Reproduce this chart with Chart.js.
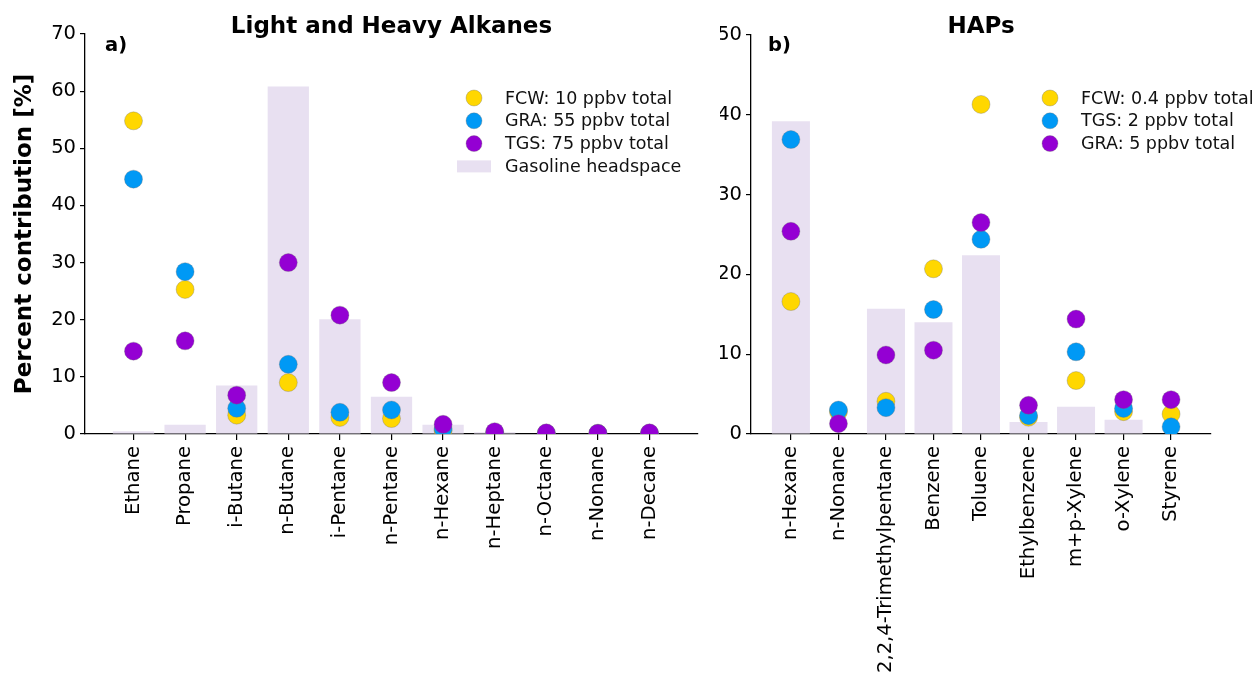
<!DOCTYPE html>
<html>
<head>
<meta charset="utf-8">
<script src="https://cdn.jsdelivr.net/npm/chart.js@4.4.1/dist/chart.umd.min.js"></script>
<style>
  html, body { margin: 0; padding: 0; background: #fff; }
  #wrap { position: relative; width: 1257px; height: 682px; overflow: hidden; }
  canvas { position: absolute; top: 0; }
  #alkanes { left: 0; }
  #haps { left: 720px; }
</style>
</head>
<body>
<div id="wrap">
  <canvas id="alkanes" width="720" height="682"></canvas>
  <canvas id="haps" width="537" height="682"></canvas>
</div>
<script>
// panel a) light and heavy alkanes
const alkaneLabels = ['Ethane', 'Propane', 'i-Butane', 'n-Butane', 'i-Pentane', 'n-Pentane',
  'n-Hexane', 'n-Heptane', 'n-Octane', 'n-Nonane', 'n-Decane'];
const alkaneFCW = [54.8, 25.3, 3.3, 9.0, 2.9, 2.7, 0.6, 0.2, 0.1, 0.1, 0.1];
const alkaneGRA = [44.6, 28.4, 4.5, 12.2, 3.8, 4.2, 0.9, 0.2, 0.1, 0.1, 0.1];
const alkaneTGS = [14.5, 16.3, 6.8, 30.0, 20.8, 9.0, 1.7, 0.4, 0.2, 0.15, 0.2];
const alkaneGasoline = [0.5, 1.6, 8.5, 60.8, 20.1, 6.5, 1.6, 0.3, 0, 0, 0];
const alkaneYTicks = [0, 10, 20, 30, 40, 50, 60, 70];

// panel b) hazardous air pollutants
const hapLabels = ['n-Hexane', 'n-Nonane', '2,2,4-Trimethylpentane', 'Benzene', 'Toluene',
  'Ethylbenzene', 'm+p-Xylene', 'o-Xylene', 'Styrene'];
const hapFCW = [16.6, 2.8, 4.1, 20.7, 41.3, 2.1, 6.7, 2.8, 2.5];
const hapTGS = [36.9, 3.0, 3.3, 15.6, 24.4, 2.3, 10.3, 3.2, 0.9];
const hapGRA = [25.4, 1.3, 9.9, 10.5, 26.5, 3.6, 14.4, 4.3, 4.3];
const hapGasoline = [39.2, 0, 15.7, 14.0, 22.4, 1.5, 3.4, 1.8, 0];
const hapYTicks = [0, 10, 20, 30, 40, 50];

const YELLOW = '#FFD700';
const BLUE = '#0099F5';
const PURPLE = '#9400D3';
const LAVENDER = '#E8E0F1';
const FONT = "'DejaVu Sans', Verdana, sans-serif";

function pts(values) {
  return values.map((v, i) => ({ x: i, y: v }));
}

function dotSet(label, values, color, order) {
  return {
    type: 'scatter',
    label: label,
    data: pts(values),
    backgroundColor: color,
    borderColor: 'rgba(110,110,110,0.55)',
    borderWidth: 0.6,
    pointRadius: 9,
    pointHoverRadius: 9,
    order: order
  };
}

// title, panel tag, y title and the hand placed legend
const panelDecor = {
  id: 'panelDecor',
  afterDraw(chart, args, opts) {
    const c = chart.ctx;
    const area = chart.chartArea;
    c.save();
    c.fillStyle = '#000';
    c.textBaseline = 'middle';

    c.font = 'bold 23px ' + FONT;
    c.textAlign = 'center';
    c.fillText(opts.title, (area.left + area.right) / 2, 27);

    c.font = 'bold 19.5px ' + FONT;
    c.textAlign = 'left';
    c.fillText(opts.tag, area.left + opts.tagDx, 46);

    if (opts.yTitle) {
      c.save();
      c.translate(25, (area.top + area.bottom) / 2);
      c.rotate(-Math.PI / 2);
      c.textAlign = 'center';
      c.font = 'bold 23px ' + FONT;
      c.fillText(opts.yTitle, 0, 0);
      c.restore();
    }

    c.font = '17.5px ' + FONT;
    chart.data.datasets.forEach((ds, i) => {
      if (!ds.inLegend) return;
      const y = opts.legendY + i * 22.8;
      if (ds.type === 'scatter') {
        c.beginPath();
        c.arc(opts.legendX, y, 8, 0, Math.PI * 2);
        c.fillStyle = ds.backgroundColor;
        c.fill();
        c.lineWidth = 0.6;
        c.strokeStyle = 'rgba(110,110,110,0.55)';
        c.stroke();
      } else {
        c.fillStyle = ds.backgroundColor;
        c.fillRect(opts.legendX - 17, y - 6, 34, 12);
      }
      c.fillStyle = '#111';
      c.textAlign = 'left';
      c.fillText(ds.label, opts.legendX + 31, y + 1);
    });
    c.restore();
  }
};

function makePanel(canvasId, labels, series, gasoline, yTicks, xMin, xMax, pad, decor) {
  const ctx = document.getElementById(canvasId).getContext('2d');
  const dots = series.map((s, i) => Object.assign(dotSet(s.label, s.values, s.color, 3 - i), { inLegend: true }));
  return new Chart(ctx, {
    type: 'bar',
    data: {
      datasets: dots.concat([{
        type: 'bar',
        label: 'Gasoline headspace',
        inLegend: decor.showBarKey,
        data: pts(gasoline),
        backgroundColor: LAVENDER,
        borderWidth: 0,
        barPercentage: 0.8,
        categoryPercentage: 1,
        order: 4
      }])
    },
    options: {
      responsive: false,
      animation: false,
      devicePixelRatio: 1,
      layout: { padding: pad },
      plugins: {
        legend: { display: false },
        tooltip: { enabled: false },
        panelDecor: decor
      },
      scales: {
        x: {
          type: 'linear',
          min: xMin,
          max: xMax,
          offset: false,
          afterBuildTicks: (scale) => {
            scale.ticks = labels.map((_, i) => ({ value: i }));
          },
          afterFit: (scale) => { scale.height = 682 - 434; },
          grid: { display: true, offset: false, drawOnChartArea: false, drawTicks: true, tickLength: 6, color: '#000', lineWidth: 1.2 },
          border: { display: true, color: '#000', width: 1.3 },
          ticks: {
            autoSkip: false,
            minRotation: 90,
            maxRotation: 90,
            padding: 6,
            color: '#000',
            font: { family: FONT, size: 19.6 },
            callback: (v) => labels[v]
          }
        },
        y: {
          min: 0,
          max: yTicks[yTicks.length - 1],
          afterBuildTicks: (scale) => {
            scale.ticks = yTicks.map(v => ({ value: v }));
          },
          afterFit: (scale) => { scale.width = decor.axisX - pad.left; },
          grid: { display: true, drawOnChartArea: false, drawTicks: true, tickLength: 5, color: '#000', lineWidth: 1.2 },
          border: { display: true, color: '#000', width: 1.3 },
          ticks: {
            padding: 4,
            color: '#000',
            font: { family: FONT, size: 19.5 }
          }
        }
      }
    },
    plugins: [panelDecor]
  });
}

makePanel('alkanes', alkaneLabels, [
  { label: 'FCW: 10 ppbv total', values: alkaneFCW, color: YELLOW },
  { label: 'GRA: 55 ppbv total', values: alkaneGRA, color: BLUE },
  { label: 'TGS: 75 ppbv total', values: alkaneTGS, color: PURPLE }
], alkaneGasoline, alkaneYTicks, -0.94, 10.94,
  { left: 0, top: 34, right: 720 - 698, bottom: 0 },
  { title: 'Light and Heavy Alkanes', tag: 'a)', tagDx: 20, yTitle: 'Percent contribution [%]',
    legendX: 474, legendY: 98, axisX: 85, showBarKey: true });

makePanel('haps', hapLabels, [
  { label: 'FCW: 0.4 ppbv total', values: hapFCW, color: YELLOW },
  { label: 'TGS: 2 ppbv total', values: hapTGS, color: BLUE },
  { label: 'GRA: 5 ppbv total', values: hapGRA, color: PURPLE }
], hapGasoline, hapYTicks, -0.84, 8.84,
  { left: 0, top: 35, right: 537 - 491, bottom: 0 },
  { title: 'HAPs', tag: 'b)', tagDx: 17, yTitle: '',
    legendX: 1050 - 720, legendY: 98, axisX: 751 - 720, showBarKey: false });
</script>
</body>
</html>
